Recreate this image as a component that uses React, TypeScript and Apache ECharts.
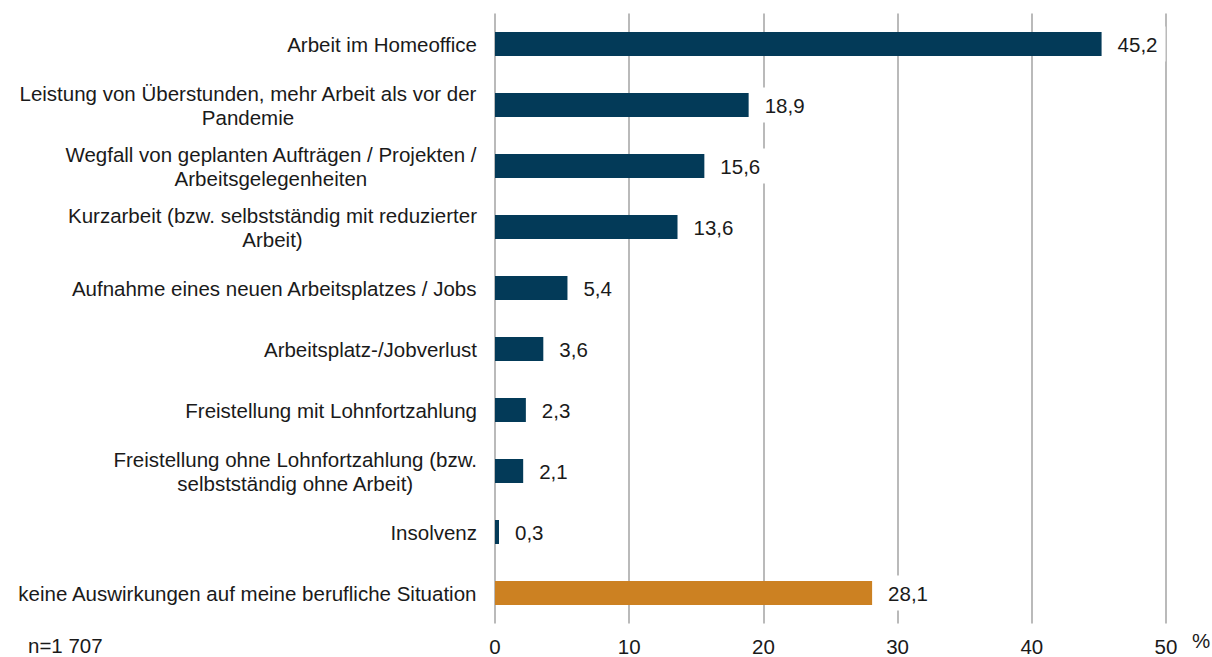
import React, { useEffect, useRef } from "react";
import * as echarts from "echarts";

const categories: string[] = [
  "Arbeit im Homeoffice",
  "Leistung von Überstunden, mehr Arbeit als vor der\nPandemie",
  "Wegfall von geplanten Aufträgen / Projekten /\nArbeitsgelegenheiten",
  "Kurzarbeit (bzw. selbstständig mit reduzierter\nArbeit)",
  "Aufnahme eines neuen Arbeitsplatzes / Jobs",
  "Arbeitsplatz-/Jobverlust",
  "Freistellung mit Lohnfortzahlung",
  "Freistellung ohne Lohnfortzahlung (bzw.\nselbstständig ohne Arbeit)",
  "Insolvenz",
  "keine Auswirkungen auf meine berufliche Situation",
];
const values: number[] = [45.2, 18.9, 15.6, 13.6, 5.4, 3.6, 2.3, 2.1, 0.3, 28.1];
const highlighted: boolean[] = [false, false, false, false, false, false, false, false, false, true];
const xTicks: number[] = [0, 10, 20, 30, 40, 50];
const sampleNote = "n=1 707";
const unitLabel = "%";

const FONT = "'Liberation Sans', Arial, Helvetica, sans-serif";
const FS = 20.5;
const TEXT = "#1a1a1a";
const NAVY = "#033a58";
const ORANGE = "#cc8122";
const GRID = "#a3a3a3";

export default function App() {
  const ref = useRef<HTMLDivElement>(null);
  useEffect(() => {
    if (!ref.current) return;
    const chart = echarts.init(ref.current, undefined, { renderer: "svg" });
    chart.setOption({
      animation: false,
      backgroundColor: "#ffffff",
      grid: {
        left: 495,
        right: 46,
        top: 13.5,
        bottom: 33.5,
        containLabel: false,
        outerBoundsMode: "none",
      },
      xAxis: {
        type: "value",
        min: xTicks[0],
        max: xTicks[xTicks.length - 1],
        interval: 10,
        axisLine: { show: false },
        axisTick: { show: false },
        splitLine: { show: true, lineStyle: { color: GRID, width: 1.5 } },
        axisLabel: {
          margin: 12,
          fontFamily: FONT,
          fontSize: FS,
          lineHeight: 21,
          color: TEXT,
        },
      },
      yAxis: {
        type: "category",
        inverse: true,
        data: categories,
        axisLine: { show: false },
        axisTick: { show: false },
        axisLabel: {
          margin: 18,
          align: "right",
          fontFamily: FONT,
          fontSize: FS,
          color: TEXT,
          lineHeight: 24,
          formatter: (v: string) =>
            v
              .split("\n")
              .map((l) => `{c|${l}}`)
              .join("\n"),
          rich: {
            c: {
              align: "center",
              fontFamily: FONT,
              fontSize: FS,
              color: TEXT,
              lineHeight: 24,
            },
          },
        },
      },
      series: [
        {
          type: "bar",
          barWidth: 24,
          data: values.map((v, i) => ({
            value: v,
            itemStyle: { color: highlighted[i] ? ORANGE : NAVY },
          })),
          label: {
            show: true,
            position: "right",
            distance: 12,
            fontFamily: FONT,
            fontSize: FS,
            color: TEXT,
            backgroundColor: "#ffffff",
            padding: [7, 8, 7, 4],
            formatter: (p: any) => String(p.value.toFixed(1)).replace(".", ","),
          },
        },
      ],
      graphic: [
        {
          type: "text",
          left: 28,
          top: 635,
          style: { text: sampleNote, font: `${FS}px ${FONT}`, fill: TEXT },
        },
        {
          type: "text",
          left: 1192,
          top: 630,
          style: { text: unitLabel, font: `${FS}px ${FONT}`, fill: TEXT },
        },
      ],
    });
    return () => chart.dispose();
  }, []);
  return (
    <div
      ref={ref}
      style={{ position: "absolute", left: 0, top: 0, width: 1212, height: 657 }}
    />
  );
}
